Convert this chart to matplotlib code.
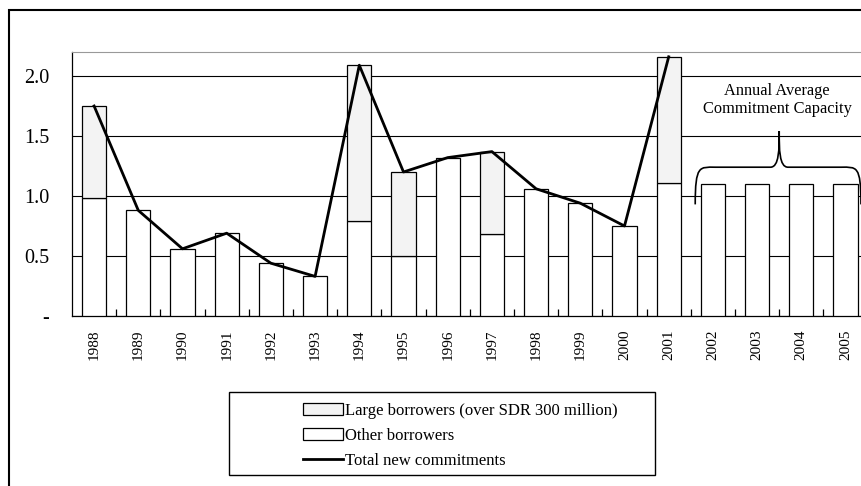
import numpy as np
import matplotlib
matplotlib.use("Agg")
import matplotlib.pyplot as plt
from matplotlib.patches import Rectangle, Patch, PathPatch
from matplotlib.lines import Line2D
from matplotlib.path import Path

plt.rcParams['font.family'] = ['Liberation Serif', 'DejaVu Serif']

years = ['1988', '1989', '1990', '1991', '1992', '1993', '1994', '1995', '1996',
         '1997', '1998', '1999', '2000', '2001', '2002', '2003', '2004', '2005']
other = [0.98, 0.88, 0.56, 0.69, 0.44, 0.33, 0.79, 0.50, 1.32,
         0.68, 1.06, 0.94, 0.75, 1.11, 1.10, 1.10, 1.10, 1.10]
large = [0.77, 0.0, 0.0, 0.0, 0.0, 0.0, 1.30, 0.70, 0.0,
         0.69, 0.0, 0.0, 0.0, 1.05, 0.0, 0.0, 0.0, 0.0]
total = [1.75, 0.88, 0.56, 0.69, 0.44, 0.33, 2.09, 1.20, 1.32,
         1.37, 1.06, 0.94, 0.75, 2.16]

fig = plt.figure(figsize=(8.62, 4.86), dpi=100)
ax = fig.add_axes([72/862, 1-316/486, 795.6/862, 264/486])

x = np.arange(len(years))
w = 0.55
ax.bar(x, other, width=w, color='white', edgecolor='black', linewidth=0.9, zorder=3)
ax.bar(x, large, width=w, bottom=other, color='#f3f3f3', edgecolor='black',
       linewidth=0.9, zorder=3)
# hide zero-height top segments
for i, v in enumerate(large):
    if v == 0:
        ax.patches[len(years) + i].set_visible(False)
ax.plot(np.arange(len(total)), total, color='black', linewidth=2, zorder=4,
        clip_on=False)

ax.set_xlim(-0.5, len(years) - 0.5)
ax.set_ylim(0, 2.2)
ax.set_yticks([0, 0.5, 1.0, 1.5, 2.0])
ax.set_yticklabels(['-', '0.5', '1.0', '1.5', '2.0'], fontsize=14.5)
ax.yaxis.grid(True, color='black', linewidth=0.8, zorder=0)
ax.set_axisbelow(True)
ax.tick_params(axis='y', length=0, pad=16.5)

ax.set_xticks(x)
ax.set_xticklabels(years, rotation=90, fontsize=11)
ax.tick_params(axis='x', which='major', length=0, pad=9.5)
ax.set_xticks(np.arange(0.5, len(years) - 1, 1), minor=True)
ax.tick_params(axis='x', which='minor', direction='in', length=5, width=0.9)

ax.spines['top'].set_color('#999999')
ax.spines['right'].set_visible(False)
ax.spines['left'].set_linewidth(0.9)
ax.spines['bottom'].set_linewidth(0.9)

# curly brace over the projected years
xl, xr, xm = 13.6, 17.35, 15.5
yb, yh, yt = 0.93, 1.24, 1.54
verts = [(xl, yb), (xl, yh + 0.02), (xl + 0.1, yh), (xl + 0.45, yh),
         (xm - 0.2, yh),
         (xm, yh), (xm, yt - 0.15), (xm, yt),
         (xm, yt - 0.15), (xm, yh), (xm + 0.2, yh),
         (xr - 0.45, yh),
         (xr - 0.1, yh), (xr, yh + 0.02), (xr, yb)]
codes = [Path.MOVETO, Path.CURVE4, Path.CURVE4, Path.CURVE4,
         Path.LINETO,
         Path.CURVE4, Path.CURVE4, Path.CURVE4,
         Path.CURVE4, Path.CURVE4, Path.CURVE4,
         Path.LINETO,
         Path.CURVE4, Path.CURVE4, Path.CURVE4]
ax.add_patch(PathPatch(Path(verts, codes), facecolor='none', edgecolor='black',
                       linewidth=1.2, zorder=5, clip_on=False))
ax.text(15.45, 1.80, 'Annual Average\nCommitment Capacity', ha='center', va='center',
        fontsize=11.8, linespacing=1.2, zorder=6)

# outer frame
fig.patches.append(Rectangle((9/862, -0.05), 1.1, 1 - 10/486 + 0.05,
                             transform=fig.transFigure, facecolor='none',
                             edgecolor='black', linewidth=1.5))
# legend frame
fig.patches.append(Rectangle((229/862, 1 - 475/486), 426/862, 83/486,
                             transform=fig.transFigure, facecolor='none',
                             edgecolor='black', linewidth=1.0))

handles = [Patch(facecolor='#f3f3f3', edgecolor='black', linewidth=0.9),
           Patch(facecolor='white', edgecolor='black', linewidth=0.9),
           Line2D([0], [0], color='black', linewidth=2)]
labels = ['Large borrowers (over SDR 300 million)', 'Other borrowers',
          'Total new commitments']
fig.legend(handles, labels, loc='upper left', bbox_to_anchor=(291/862, 1 - 391/486),
           frameon=False, fontsize=12, handlelength=2.4, handleheight=0.7,
           handletextpad=0.15, labelspacing=0.55, borderpad=0.2)

fig.savefig('out.png', dpi=100)
